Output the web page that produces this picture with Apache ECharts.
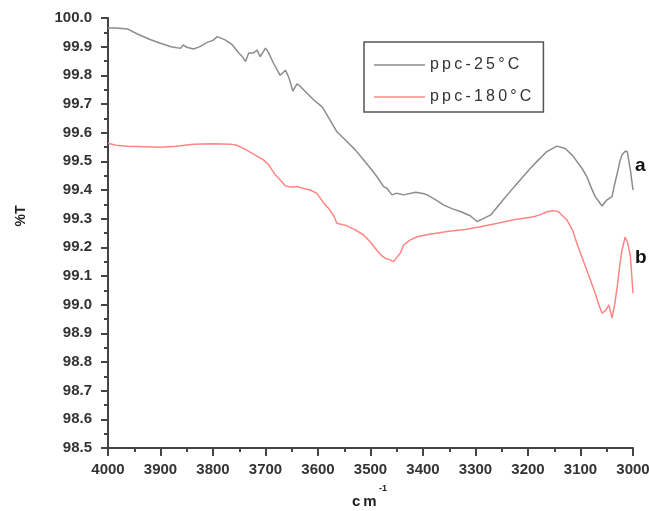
<!DOCTYPE html>
<html>
<head>
<meta charset="utf-8">
<script src="https://cdn.jsdelivr.net/npm/echarts@6/dist/echarts.min.js"></script>
<style>
	html,body{margin:0;padding:0;background:#fff;}
	#chart{width:649px;height:511px;}
</style>
</head>
<body>
<div id="chart"></div>
<script>
// x values (cm-1) and %T for each trace
var wnA = [4000,3985,3963,3945,3920,3900,3880,3862,3857,3850,3837,3825,3811,3800,3792,3776,3763,3751,3744,3738,3732,3723,3716,3710,3700,3695,3685,3672,3662,3655,3648,3640,3634,3627,3608,3592,3577,3564,3545,3529,3513,3500,3488,3475,3469,3459,3450,3437,3414,3400,3392,3375,3361,3345,3329,3310,3297,3285,3271,3250,3227,3210,3195,3180,3164,3145,3129,3115,3107,3097,3088,3080,3072,3065,3059,3050,3040,3035,3030,3025,3021,3015,3011,3005,3000];
var tA = [99.965,99.965,99.962,99.945,99.925,99.912,99.900,99.894,99.906,99.898,99.892,99.900,99.915,99.922,99.935,99.923,99.906,99.878,99.865,99.848,99.878,99.878,99.888,99.865,99.895,99.882,99.843,99.800,99.818,99.790,99.745,99.770,99.762,99.749,99.714,99.690,99.644,99.603,99.569,99.540,99.505,99.476,99.447,99.412,99.406,99.383,99.389,99.383,99.392,99.388,99.383,99.365,99.348,99.335,99.325,99.310,99.290,99.300,99.313,99.360,99.410,99.445,99.477,99.505,99.534,99.553,99.545,99.520,99.500,99.475,99.447,99.410,99.377,99.360,99.344,99.365,99.377,99.420,99.458,99.500,99.522,99.535,99.534,99.470,99.400];

var wnB = [4000,3985,3964,3930,3900,3870,3837,3800,3767,3755,3742,3725,3704,3695,3681,3672,3662,3650,3640,3625,3615,3602,3589,3580,3570,3564,3555,3545,3530,3513,3500,3488,3478,3472,3465,3456,3450,3443,3437,3425,3411,3390,3354,3320,3291,3260,3227,3189,3175,3164,3152,3142,3126,3115,3107,3098,3088,3080,3072,3065,3059,3052,3046,3040,3035,3030,3025,3021,3015,3010,3005,3000];
var tB = [99.563,99.556,99.553,99.551,99.549,99.553,99.560,99.561,99.560,99.556,99.545,99.528,99.505,99.490,99.452,99.435,99.414,99.410,99.412,99.404,99.400,99.388,99.354,99.336,99.310,99.284,99.280,99.275,99.262,99.243,99.218,99.190,99.170,99.162,99.158,99.150,99.165,99.180,99.208,99.225,99.237,99.245,99.255,99.262,99.272,99.283,99.296,99.307,99.315,99.324,99.328,99.324,99.296,99.260,99.214,99.170,99.120,99.080,99.040,99.000,98.970,98.980,98.999,98.953,99.000,99.063,99.140,99.190,99.235,99.215,99.168,99.040];

var seriesNames = ['ppc-25°C','ppc-180°C'];
var curveLabels = ['a','b'];

function pairs(xs, ys){
	var out = [];
	for(var i=0;i<xs.length;i++){
		out.push([xs[i], ys[i]]);
	}
	return out;
}

var font = '"Liberation Sans", Arial, sans-serif';
var axisColor = '#444';

var myChart = echarts.init(document.getElementById('chart'));
myChart.setOption({
	backgroundColor:'#fff',
	animation:false,
	grid:{left:108,right:16,top:18,bottom:63,outerBoundsMode:'none'},
	legend:{
		orient:'vertical',
		left:364,
		top:42,
		padding:[15,12,7,10],
		icon:'rect',
		itemWidth:51,
		itemHeight:1.5,
		itemGap:16,
		borderColor:'#555',
		borderWidth:1.5,
		data:seriesNames,
		formatter:function(name){
			return name.split('').join('\u2009');
		},
		textStyle:{color:'#333',fontSize:16,lineHeight:16,fontFamily:font}
	},
	xAxis:{
		type:'value',
		inverse:true,
		min:3000,
		max:4000,
		interval:100,
		axisLine:{show:true,onZero:false,lineStyle:{color:axisColor,width:2}},
		axisTick:{show:true,length:8,lineStyle:{color:axisColor,width:2}},
		minorTick:{show:true,splitNumber:2,length:4,lineStyle:{color:axisColor,width:2}},
		splitLine:{show:false},
		axisLabel:{
			margin:14,
			color:'#333',
			fontSize:15,
			fontWeight:'bold',
			fontFamily:font,
			formatter:function(v){ return String(v); }
		}
	},
	yAxis:{
		type:'value',
		min:98.5,
		max:100,
		interval:0.1,
		axisLine:{show:true,lineStyle:{color:axisColor,width:2}},
		axisTick:{show:true,length:7,lineStyle:{color:axisColor,width:2}},
		minorTick:{show:true,splitNumber:2,length:4,lineStyle:{color:axisColor,width:2}},
		splitLine:{show:false},
		axisLabel:{
			margin:16,
			color:'#333',
			fontSize:15,
			fontWeight:'bold',
			fontFamily:font,
			formatter:function(v){ return v.toFixed(1); }
		}
	},
	graphic:[
		{type:'text',x:21,y:216,rotation:Math.PI/2,style:{text:'%T',fill:'#222',font:'bold 14px '+font,align:'center',verticalAlign:'middle'}},
		{type:'text',x:352,y:502,style:{text:'c\u2009m',fill:'#222',font:'bold 15px '+font,verticalAlign:'middle'}},
		{type:'text',x:379,y:489,style:{text:'-1',fill:'#222',font:'bold 9px '+font,verticalAlign:'middle'}}
	],
	series:[
		{
			name:seriesNames[0],
			type:'line',
			symbol:'none',
			data:pairs(wnA,tA),
			lineStyle:{color:'#8c8c8c',width:1.5},
			itemStyle:{color:'#8c8c8c'},
			endLabel:{show:true,formatter:curveLabels[0],align:'left',offset:[10,-24],color:'#111',fontSize:19,fontWeight:'bold',fontFamily:font}
		},
		{
			name:seriesNames[1],
			type:'line',
			symbol:'none',
			data:pairs(wnB,tB),
			lineStyle:{color:'#ff8585',width:1.5},
			itemStyle:{color:'#ff8585'},
			endLabel:{show:true,formatter:curveLabels[1],align:'left',offset:[10,-35],color:'#111',fontSize:19,fontWeight:'bold',fontFamily:font}
		}
	]
});
</script>
</body>
</html>
